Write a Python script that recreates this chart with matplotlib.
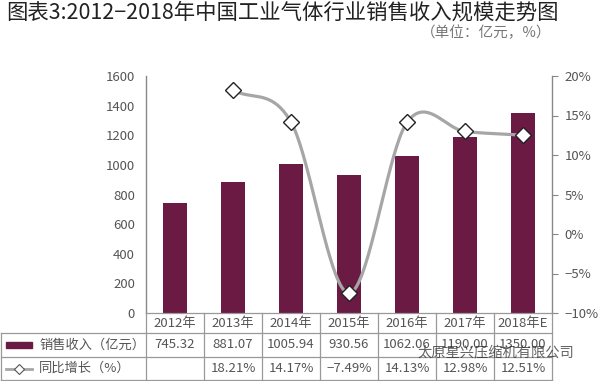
import numpy as np
import matplotlib
matplotlib.use("Agg")
import matplotlib.pyplot as plt
from matplotlib.lines import Line2D
from matplotlib.patches import Rectangle

plt.rcParams['font.family'] = ['Noto Sans CJK SC', 'DejaVu Sans']

years = ['2012年', '2013年', '2014年', '2015年', '2016年', '2017年', '2018年E']
sales = [745.32, 881.07, 1005.94, 930.56, 1062.06, 1190.00, 1350.00]
sales_labels = ['745.32', '881.07', '1005.94', '930.56', '1062.06', '1190.00', '1350.00']
growth = [None, 18.21, 14.17, -7.49, 14.13, 12.98, 12.51]
growth_labels = ['', '18.21%', '14.17%', '\u22127.49%', '14.13%', '12.98%', '12.51%']
left_ticks = [0, 200, 400, 600, 800, 1000, 1200, 1400, 1600]
right_ticks = [-10, -5, 0, 5, 10, 15, 20]

BAR = '#6b1a44'
LINE = '#a6a6a6'
TXT = '#555555'

W, H = 600, 381
fig = plt.figure(figsize=(6.0, 3.81), dpi=100)

def fx(px):
    return px / W

def fy(py):
    return 1 - py / H

ax_l, ax_r, ax_t, ax_b = 146, 552, 76, 313
ax = fig.add_axes([fx(ax_l), fy(ax_b), fx(ax_r - ax_l), fy(ax_t) - fy(ax_b)])
n = len(years)
x = np.arange(n)
ax.bar(x, sales, width=0.42, color=BAR, zorder=2)
ax.set_xlim(-0.5, n - 0.5)
ax.set_ylim(0, 1600)
ax.set_yticks(left_ticks)
ax.set_yticklabels([str(t) for t in left_ticks], color=TXT, fontsize=9.5)
ax.tick_params(axis='y', length=0, pad=8)
ax.set_xticks([])
for s in ['top', 'right', 'bottom']:
    ax.spines[s].set_visible(False)
ax.spines['left'].set_color('#888888')
ax.spines['left'].set_linewidth(1.0)

ax2 = ax.twinx()
ax2.set_ylim(-10, 20)
ax2.set_yticks(right_ticks)
ax2.set_yticklabels([('\u2212%d%%' % -t) if t < 0 else '%d%%' % t for t in right_ticks],
                    color=TXT, fontsize=9.5)
ax2.tick_params(axis='y', length=4, color='#888888', pad=5)
for s in ['top', 'left', 'bottom']:
    ax2.spines[s].set_visible(False)
ax2.spines['right'].set_color('#888888')
ax2.spines['right'].set_linewidth(1.0)

# smoothed line (Catmull-Rom through data points)
gx = np.array([i for i, g in enumerate(growth) if g is not None], dtype=float)
gy = np.array([g for g in growth if g is not None], dtype=float)
px = np.concatenate([[2 * gx[0] - gx[1]], gx, [2 * gx[-1] - gx[-2]]])
py = np.concatenate([[2 * gy[0] - gy[1]], gy, [2 * gy[-1] - gy[-2]]])
cx, cy = [], []
t = np.linspace(0, 1, 40)
for i in range(1, len(px) - 2):
    p0, p1, p2, p3 = (np.array([px[j], py[j]]) for j in (i - 1, i, i + 1, i + 2))
    for tt in t:
        pt = 0.5 * ((2 * p1) + (-p0 + p2) * tt + (2 * p0 - 5 * p1 + 4 * p2 - p3) * tt ** 2
                    + (-p0 + 3 * p1 - 3 * p2 + p3) * tt ** 3)
        cx.append(pt[0]); cy.append(pt[1])
ax2.plot(cx, cy, color=LINE, lw=2.3, zorder=3, solid_capstyle='round')
ax2.plot(gx, gy, linestyle='none', marker='D', markersize=8, markerfacecolor='white',
         markeredgecolor='#222222', markeredgewidth=1.0, zorder=4)

# title & unit
fig.text(fx(6), fy(13), '图表3:2012\u22122018年中国工业气体行业销售收入规模走势图',
         fontsize=15.4, color='#222222', va='center', ha='left')
fig.text(fx(551), fy(33), '（单位：亿元，%）', fontsize=10.5, color='#777777',
         va='center', ha='right')

# data table
colw = (ax_r - ax_l) / n
rows_y = [313, 333, 357, 380]
line_kw = dict(color='#999999', lw=0.9, transform=fig.transFigure, clip_on=False)
fig.add_artist(Line2D([fx(ax_l), fx(ax_r)], [fy(rows_y[0])] * 2, **line_kw))
for yy in rows_y[1:]:
    fig.add_artist(Line2D([fx(1), fx(ax_r)], [fy(yy)] * 2, **line_kw))
for i in range(n + 1):
    xx = ax_l + i * colw
    fig.add_artist(Line2D([fx(xx)] * 2, [fy(rows_y[0]), fy(rows_y[3])], **line_kw))
fig.add_artist(Line2D([fx(1)] * 2, [fy(rows_y[1]), fy(rows_y[3])], **line_kw))

for i in range(n):
    xc = ax_l + (i + 0.5) * colw
    fig.text(fx(xc), fy((rows_y[0] + rows_y[1]) / 2), years[i], fontsize=9.5,
             color=TXT, ha='center', va='center')
    fig.text(fx(xc), fy((rows_y[1] + rows_y[2]) / 2), sales_labels[i], fontsize=9.5,
             color=TXT, ha='center', va='center')
    fig.text(fx(xc), fy((rows_y[2] + rows_y[3]) / 2), growth_labels[i], fontsize=9.5,
             color=TXT, ha='center', va='center')

# legend keys in table
ys = (rows_y[1] + rows_y[2]) / 2
fig.add_artist(Rectangle((fx(6), fy(ys + 3)), fx(26), fy(ys - 3) - fy(ys + 3),
                         color=BAR, transform=fig.transFigure))
fig.text(fx(39), fy(ys), '销售收入（亿元）', fontsize=9.5, color=TXT, ha='left', va='center')
yg = (rows_y[2] + rows_y[3]) / 2
fig.add_artist(Line2D([fx(6), fx(32)], [fy(yg)] * 2, color=LINE, lw=2.0,
                      transform=fig.transFigure))
fig.add_artist(Line2D([fx(19)], [fy(yg)], marker='D', markersize=5,
                      markerfacecolor='white', markeredgecolor='#555555',
                      markeredgewidth=0.8, transform=fig.transFigure))
fig.text(fx(39), fy(yg), '同比增长（%）', fontsize=9.5, color=TXT, ha='left', va='center')

# watermark (present in the reference image)
fig.text(fx(417), fy(352), '太原星兴压缩机有限公司', fontsize=10.3, color='#222222',
         alpha=0.7, ha='left', va='center')

fig.savefig('out.png', dpi=100)
